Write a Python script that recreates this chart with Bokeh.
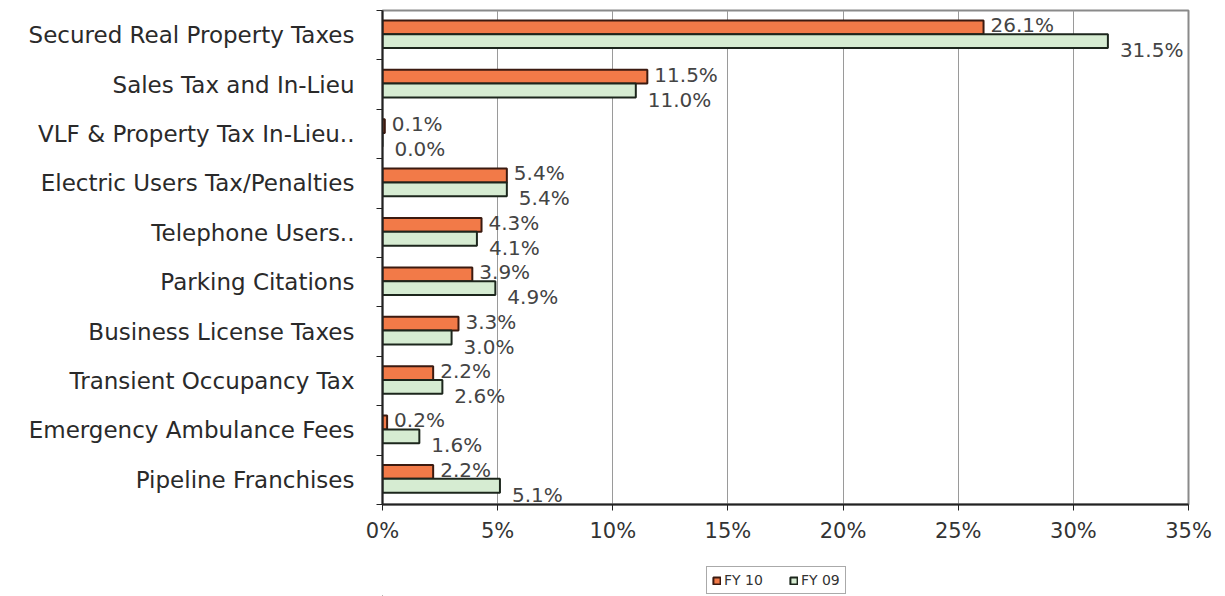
from bokeh.plotting import figure
from bokeh.layouts import column
from bokeh.models import ColumnDataSource, FixedTicker, Legend, LegendItem, Range1d, LabelSet
from bokeh.core.properties import value
from bokeh.embed import file_html
from bokeh.resources import INLINE

categories = [
    "Secured Real Property Taxes",
    "Sales Tax and In-Lieu",
    "VLF & Property Tax In-Lieu..",
    "Electric Users Tax/Penalties",
    "Telephone Users..",
    "Parking Citations",
    "Business License Taxes",
    "Transient Occupancy Tax",
    "Emergency Ambulance Fees",
    "Pipeline Franchises",
]
fy10 = [26.1, 11.5, 0.1, 5.4, 4.3, 3.9, 3.3, 2.2, 0.2, 2.2]
fy09 = [31.5, 11.0, 0.0, 5.4, 4.1, 4.9, 3.0, 2.6, 1.6, 5.1]
x_ticks = [0, 5, 10, 15, 20, 25, 30, 35]
series = ["FY 10", "FY 09"]
colors = ["#f27a48", "#d6ecd2"]
edges = ["#3b1a10", "#1c261c"]

n = len(categories)
centers = [n - i - 0.5 for i in range(n)]
bh = 0.28
y10 = [c + bh / 2 + 0.02 for c in centers]
y09 = [c - bh / 2 + 0.02 for c in centers]

FONT = "DejaVu Sans"

p = figure(width=1225, height=545, output_backend="svg", toolbar_location=None,
           x_range=Range1d(0, 35), y_range=Range1d(0, n),
           min_border_left=382, min_border_right=37, min_border_top=10, min_border_bottom=40)
p.background_fill_color = "white"
p.border_fill_color = "white"
p.outline_line_color = "#8a8a8a"
p.outline_line_width = 2

src10 = ColumnDataSource(dict(y=y10, right=fy10, lab=[f"{v:.1f}%" for v in fy10]))
src09 = ColumnDataSource(dict(y=y09, right=fy09, lab=[f"{v:.1f}%" for v in fy09]))

p.hbar(y="y", right="right", left=0, height=bh, source=src10,
       fill_color=colors[0], line_color=edges[0], line_width=2)
p.hbar(y="y", right="right", left=0, height=bh, source=src09,
       fill_color=colors[1], line_color=edges[1], line_width=2)

l10 = LabelSet(x="right", y="y", text="lab", source=src10, x_offset=7, y_offset=2,
               text_font=value(FONT), text_font_size="20px", text_color="#444444",
               text_baseline="middle")
l09 = LabelSet(x="right", y="y", text="lab", source=src09, x_offset=12, y_offset=-9,
               text_font=value(FONT), text_font_size="20px", text_color="#444444",
               text_baseline="middle")
p.add_layout(l10)
p.add_layout(l09)

# x axis
p.xaxis.ticker = FixedTicker(ticks=x_ticks)
p.xaxis.major_label_overrides = {t: f"{t}%" for t in x_ticks}
p.xaxis.major_label_text_font = FONT
p.xaxis.major_label_text_font_size = "21px"
p.xaxis.major_label_text_color = "#333333"
p.xaxis.major_label_standoff = 8
p.xaxis.axis_line_color = "#222222"
p.xaxis.axis_line_width = 2
p.xaxis.major_tick_line_color = "#222222"
p.xaxis.major_tick_in = 0
p.xaxis.major_tick_out = 6
p.xaxis.minor_tick_line_color = None

# y axis
p.yaxis.ticker = FixedTicker(ticks=centers, minor_ticks=list(range(n + 1)))
p.yaxis.major_label_overrides = {c: cat for c, cat in zip(centers, categories)}
p.yaxis.major_label_text_font = FONT
p.yaxis.major_label_text_font_size = "23px"
p.yaxis.major_label_text_color = "#2a2a2a"
p.yaxis.major_label_standoff = 22
p.yaxis.major_tick_line_color = None
p.yaxis.minor_tick_line_color = "#222222"
p.yaxis.minor_tick_in = 0
p.yaxis.minor_tick_out = 6
p.yaxis.axis_line_color = "#222222"
p.yaxis.axis_line_width = 2

p.xgrid.grid_line_color = "#9a9a9a"
p.xgrid.grid_line_width = 1
p.ygrid.grid_line_color = None

# legend figure
lg = figure(width=1225, height=51, output_backend="svg", toolbar_location=None,
            x_range=Range1d(0, 10), y_range=Range1d(0, 10),
            x_axis_location=None, y_axis_location=None,
            min_border_left=382, min_border_right=37, min_border_top=0, min_border_bottom=0)
lg.grid.visible = False
lg.outline_line_color = None
lg.background_fill_color = "white"
lg.border_fill_color = "white"
items = []
for s, c, e in zip(series, colors, edges):
    r = lg.hbar(y=[-500], right=[-400], left=-500, height=1, fill_color=c, line_color=e, line_width=2)
    items.append(LegendItem(label=s, renderers=[r]))
legend = Legend(items=items, orientation="horizontal", location=(324, 2),
                label_text_font=FONT, label_text_font_size="14px", label_text_color="#333333",
                glyph_width=9, glyph_height=9, spacing=26, padding=5, margin=0,
                label_standoff=3, border_line_color="#555555", border_line_width=1,
                label_height=4)
lg.add_layout(legend)

open("out.html", "w").write(file_html(column(p, lg, spacing=0), INLINE))
